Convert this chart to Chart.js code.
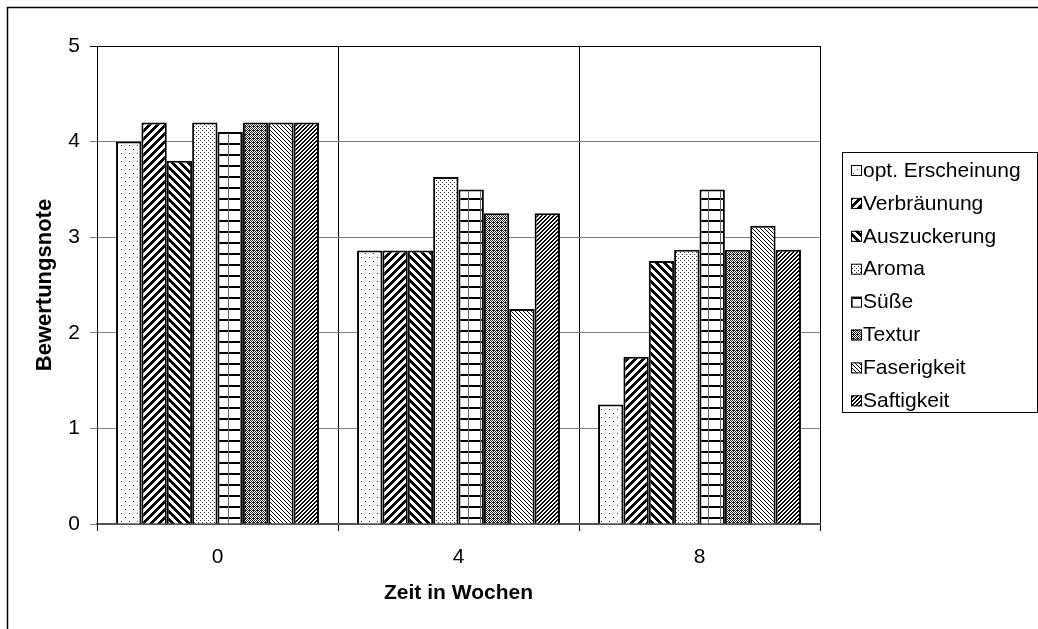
<!DOCTYPE html>
<html>
<head>
<meta charset="utf-8">
<script src="https://cdn.jsdelivr.net/npm/chart.js@4"></script>
<style>
  html, body { margin: 0; padding: 0; background: #fff; }
  #wrap { width: 1038px; height: 629px; }
</style>
</head>
<body>
<div id="wrap"><canvas id="chart" width="1038" height="629"></canvas></div>
<script>
// Zeit in Wochen
const weeks = ['0', '4', '8'];
const seriesNames = ['opt. Erscheinung', 'Verbräunung', 'Auszuckerung', 'Aroma', 'Süße', 'Textur', 'Faserigkeit', 'Saftigkeit'];

// Bewertungsnote je Merkmal
const optErscheinung = [4.0, 2.86, 1.25];
const verbraeunung   = [4.2, 2.86, 1.75];
const auszuckerung   = [3.8, 2.86, 2.75];
const aroma          = [4.2, 3.63, 2.87];
const suesse         = [4.1, 3.5, 3.5];
const textur         = [4.2, 3.25, 2.87];
const faserigkeit    = [4.2, 2.25, 3.12];
const saftigkeit     = [4.2, 3.25, 2.87];

const yTicks = [0, 1, 2, 3, 4, 5];

const FONT = 'Arial, "Liberation Sans", sans-serif';

// kleine Kachel -> Muster
function tile(w, h, draw) {
    const c = document.createElement('canvas');
    c.width = w; c.height = h;
    const g = c.getContext('2d');
    g.fillStyle = '#fff';
    g.fillRect(0, 0, w, h);
    draw(g, w, h);
    return g.createPattern(c, 'repeat');
}
function pix(g, w, h, test, color) {
    g.fillStyle = color;
    for (let y = 0; y < h; y++)
        for (let x = 0; x < w; x++)
            if (test(x, y)) g.fillRect(x, y, 1, 1);
}

const patterns = [
    // sparse dots
    tile(8, 8, g => { g.fillStyle = '#444'; g.fillRect(1, 1, 1, 1); g.fillRect(5, 5, 1, 1); }),
    // wide upward diagonal
    tile(8, 8, (g, w, h) => pix(g, w, h, (x, y) => ((x + y) % 8) < 4, '#000')),
    // wide downward diagonal
    tile(8, 8, (g, w, h) => pix(g, w, h, (x, y) => ((x - y + 64) % 8) < 4, '#000')),
    // dense dots
    tile(4, 4, g => { g.fillStyle = '#333'; g.fillRect(0, 0, 1, 1); g.fillRect(2, 2, 1, 1); }),
    // large grid
    tile(12, 11, g => {
        g.fillStyle = '#000'; g.fillRect(0, 0, 12, 2);
        g.fillStyle = '#666'; g.fillRect(0, 0, 1, 11);
    }),
    // small checker
    tile(4, 4, (g, w, h) => pix(g, w, h, (x, y) => ((x + y) % 2 === 0) || (x === 1 && y === 2), '#222')),
    // light downward diagonal
    tile(4, 4, (g, w, h) => pix(g, w, h, (x, y) => ((x - y + 16) % 4) === 0, '#000')),
    // dark upward diagonal
    tile(4, 4, (g, w, h) => pix(g, w, h, (x, y) => ((x + y) % 4) < 2, '#000'))
];

const values = [optErscheinung, verbraeunung, auszuckerung, aroma, suesse, textur, faserigkeit, saftigkeit];

const datasets = seriesNames.map((label, i) => ({
    label,
    data: values[i],
    backgroundColor: patterns[i],
    borderColor: '#000',
    borderWidth: 2,
    borderSkipped: 'bottom',
    categoryPercentage: 0.842,
    barPercentage: 1.0
}));

// Rahmen oben/links und Plotrahmen
const framePlugin = {
    id: 'frame',
    afterDraw(chart) {
        const c = chart.ctx;
        const a = chart.chartArea;
        c.save();
        c.strokeStyle = '#000';
        c.lineWidth = 1.5;
        c.beginPath();
        c.moveTo(7.5, 629); c.lineTo(7.5, 7.5); c.lineTo(1038, 7.5);
        c.stroke();
        c.lineWidth = 1;
        c.beginPath();
        c.moveTo(a.left, a.top + 0.5); c.lineTo(a.right, a.top + 0.5);
        c.stroke();
        c.restore();
    }
};

// Legende mit Rahmen
const legendPlugin = {
    id: 'boxLegend',
    afterDraw(chart) {
        const c = chart.ctx;
        const x0 = 842, y0 = 152, w = 195, h = 260;
        c.save();
        c.strokeStyle = '#000';
        c.lineWidth = 1;
        c.strokeRect(x0 + 0.5, y0 + 0.5, w, h);
        c.font = '21px ' + FONT;
        c.textBaseline = 'middle';
        c.textAlign = 'left';
        chart.data.datasets.forEach((ds, i) => {
            const cy = 170 + i * 32.9;
            c.fillStyle = ds.backgroundColor;
            c.fillRect(851, cy - 5, 11, 11);
            c.strokeStyle = '#000';
            c.lineWidth = 1;
            c.strokeRect(851.5, cy - 4.5, 10, 10);
            c.fillStyle = '#000';
            c.fillText(ds.label, 863, cy + 1);
        });
        c.restore();
    }
};

new Chart(document.getElementById('chart'), {
    type: 'bar',
    data: { labels: weeks, datasets },
    plugins: [framePlugin, legendPlugin],
    options: {
        responsive: false,
        animation: false,
        layout: { padding: { left: 0, top: 46, right: 218, bottom: 0 } },
        plugins: { legend: { display: false }, tooltip: { enabled: false } },
        scales: {
            x: {
                grid: { color: '#000', lineWidth: 1, tickLength: 7, offset: true },
                border: { color: '#555', width: 2 },
                ticks: { color: '#000', font: { family: FONT, size: 21 }, padding: 14 },
                title: {
                    display: true, text: 'Zeit in Wochen', color: '#000',
                    font: { family: FONT, size: 21, weight: 'bold' },
                    padding: { top: 0, bottom: 23 }
                },
                afterFit(scale) { scale.height = 105; }
            },
            y: {
                min: 0, max: 5,
                afterBuildTicks(scale) { scale.ticks = yTicks.map(v => ({ value: v })); },
                grid: {
                    color: ctx => ctx.tick && ctx.tick.value === 5 ? '#000' : '#808080',
                    lineWidth: 1, tickLength: 7
                },
                border: { color: '#000', width: 1 },
                ticks: { color: '#000', font: { family: FONT, size: 21 }, padding: 10 },
                title: {
                    display: true, text: 'Bewertungsnote', color: '#000',
                    font: { family: FONT, size: 22, weight: 'bold' },
                    padding: { top: 32, bottom: 0 }
                },
                afterFit(scale) { scale.width = 97; }
            }
        }
    }
});
</script>
</body>
</html>
